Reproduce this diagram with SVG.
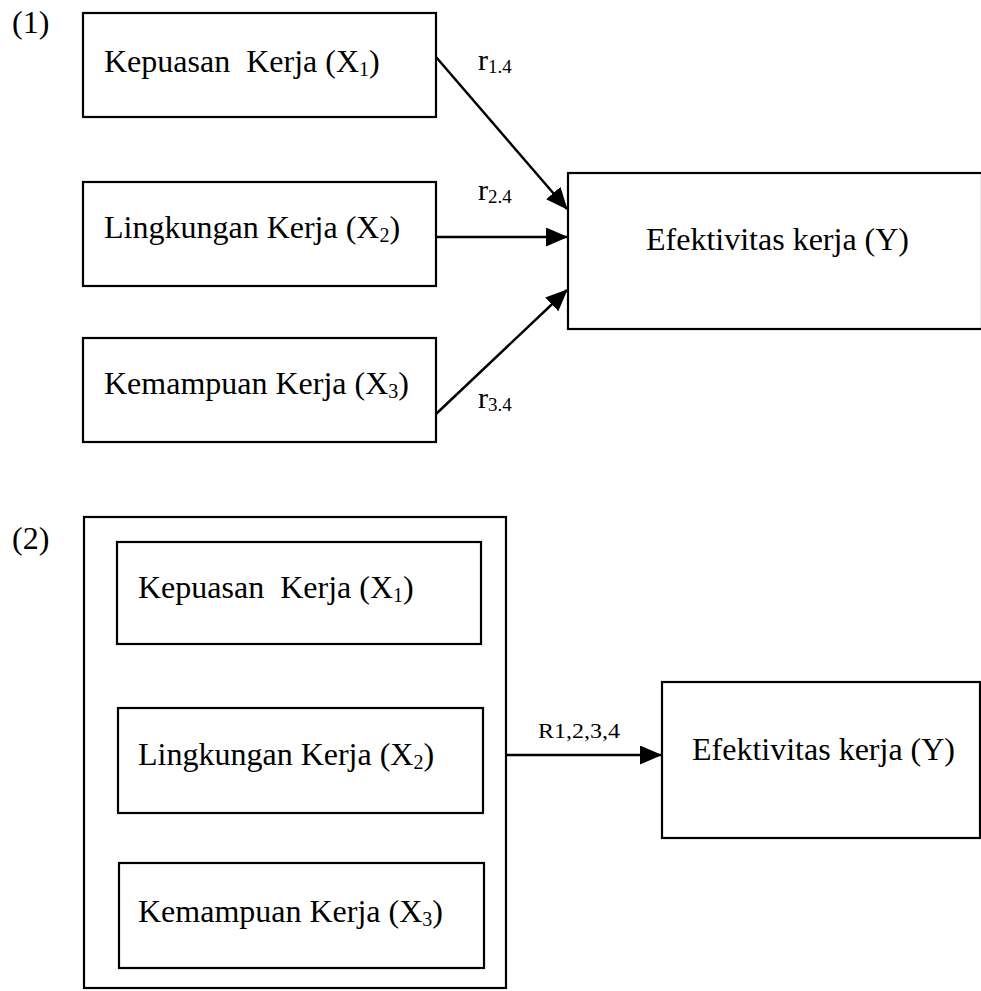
<svg xmlns="http://www.w3.org/2000/svg" width="981" height="991" viewBox="0 0 981 991">
<style>
  .box { fill: #fff; stroke: #000; stroke-width: 2.2; }
  .lbl { font-family: "Liberation Serif", "Times New Roman", serif; font-size: 32px; fill: #000; }
  .sub { font-size: 20px; }
  .r { font-family: "Liberation Serif", "Times New Roman", serif; font-size: 30px; fill: #000; }
  .rs { font-size: 19px; }
  .rl { font-family: "Liberation Serif", "Times New Roman", serif; font-size: 22px; fill: #000; }
  .edge { stroke: #000; stroke-width: 2.5; fill: none; marker-end: url(#ah); }
</style>
<defs>
  <marker id="ah" markerUnits="userSpaceOnUse" markerWidth="22" markerHeight="19" refX="21" refY="9.5" orient="auto">
    <path d="M0,0 L22,9.5 L0,19 z" fill="#000"/>
  </marker>
</defs>
<rect width="981" height="991" fill="#fff"/>

<text class="lbl" x="12" y="33">(1)</text>
<text class="lbl" x="12" y="549">(2)</text>

<g id="connectors">
  <line class="edge" x1="436" y1="57" x2="567" y2="209"/>
  <line class="edge" x1="436" y1="237" x2="567" y2="237"/>
  <line class="edge" x1="436" y1="414" x2="567" y2="290"/>
  <line class="edge" x1="506" y1="755" x2="661" y2="755"/>
  <text class="r" x="478" y="70">r<tspan class="rs" dy="3">1.4</tspan></text>
  <text class="r" x="478" y="200">r<tspan class="rs" dy="3">2.4</tspan></text>
  <text class="r" x="478" y="408">r<tspan class="rs" dy="3">3.4</tspan></text>
  <text class="rl" x="538" y="738" textLength="82" lengthAdjust="spacingAndGlyphs">R1,2,3,4</text>
</g>

<g id="n1_x1">
  <rect class="box" x="83" y="13" width="353" height="104"/>
  <text class="lbl" x="104" y="72" xml:space="preserve">Kepuasan  Kerja (X<tspan class="sub" dy="4">1</tspan><tspan dy="-4">)</tspan></text>
</g>
<g id="n1_x2">
  <rect class="box" x="83" y="182" width="353" height="104"/>
  <text class="lbl" x="104" y="238">Lingkungan Kerja (X<tspan class="sub" dy="4">2</tspan><tspan dy="-4">)</tspan></text>
</g>
<g id="n1_x3">
  <rect class="box" x="83" y="338" width="353" height="104"/>
  <text class="lbl" x="104" y="394">Kemampuan Kerja (X<tspan class="sub" dy="4">3</tspan><tspan dy="-4">)</tspan></text>
</g>
<g id="n1_y">
  <rect class="box" x="568" y="173" width="414" height="156"/>
  <text class="lbl" x="646" y="250">Efektivitas kerja (Y)</text>
</g>

<g id="n2_group">
  <rect class="box" x="84" y="517" width="422" height="471"/>
</g>
<g id="n2_x1">
  <rect class="box" x="117" y="542" width="364" height="102"/>
  <text class="lbl" x="138" y="598" xml:space="preserve">Kepuasan  Kerja (X<tspan class="sub" dy="4">1</tspan><tspan dy="-4">)</tspan></text>
</g>
<g id="n2_x2">
  <rect class="box" x="118" y="708" width="365" height="105"/>
  <text class="lbl" x="138" y="765">Lingkungan Kerja (X<tspan class="sub" dy="4">2</tspan><tspan dy="-4">)</tspan></text>
</g>
<g id="n2_x3">
  <rect class="box" x="119" y="863" width="365" height="105"/>
  <text class="lbl" x="138" y="922">Kemampuan Kerja (X<tspan class="sub" dy="4">3</tspan><tspan dy="-4">)</tspan></text>
</g>
<g id="n2_y">
  <rect class="box" x="662" y="682" width="318" height="156"/>
  <text class="lbl" x="692" y="760">Efektivitas kerja (Y)</text>
</g>
</svg>
